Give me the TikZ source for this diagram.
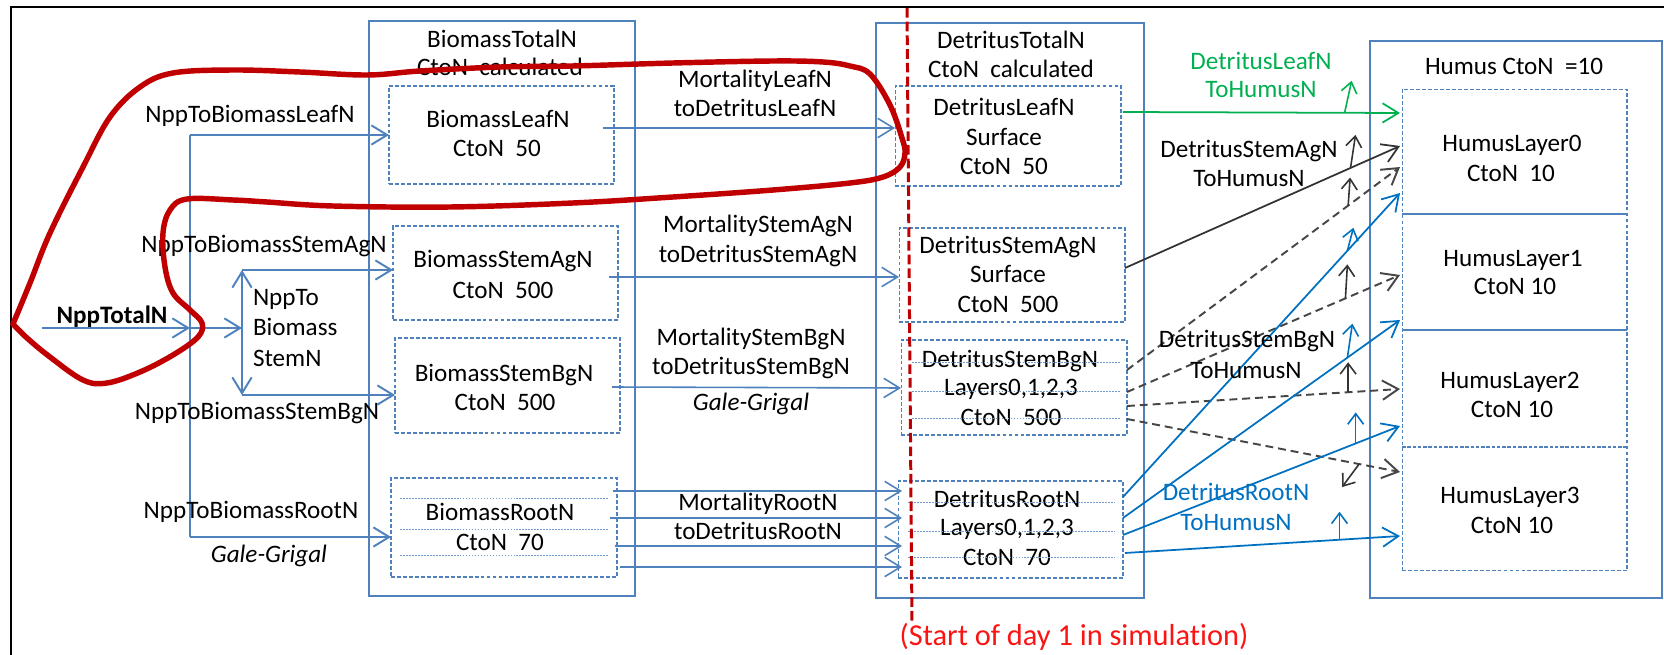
\documentclass[tikz,border=0pt]{standalone}
\usepackage{fontspec}
\setmainfont{Carlito}[Ligatures=NoCommon]
\usetikzlibrary{arrows.meta,calc}
\definecolor{boxblue}{RGB}{79,129,189}
\definecolor{flowblue}{RGB}{0,112,192}
\definecolor{flowgreen}{RGB}{0,176,80}
\definecolor{loopred}{RGB}{192,0,0}
\definecolor{daytext}{RGB}{250,20,20}
\definecolor{flowgray}{RGB}{70,70,70}
\begin{document}
\begin{tikzpicture}[x=0.02cm,y=-0.02cm,
  every node/.style={font=\fontsize{14.3}{17}\selectfont, inner sep=0pt, outer sep=0pt},
  txt/.style={anchor=base},
  outerbox/.style={draw=boxblue, line width=1pt, rectangle},
  dbox/.style={draw=boxblue, line width=0.6pt, dash pattern=on 2.2pt off 1.2pt, rectangle},
  rule/.style={draw=boxblue!80, line width=0.4pt, dash pattern=on 1pt off 0.7pt},
  head/.style={-{Straight Barb[length=9pt,width=11pt]}},
  smallhead/.style={-{Straight Barb[length=6pt,width=9pt]}},
  nppline/.style={draw=boxblue, line width=1.1pt},
  npparrow/.style={nppline, head},
  mort/.style={draw=boxblue, line width=0.9pt, head},
  greenflow/.style={draw=flowgreen, line width=1pt, head},
  blackflow/.style={draw=black!80, line width=1pt, head},
  grayflow/.style={draw=flowgray, line width=1.1pt, dash pattern=on 4.5pt off 2.8pt, head},
  blueflow/.style={draw=flowblue, line width=1pt, head},
  upgreen/.style={draw=flowgreen, line width=0.9pt, smallhead},
  upblack/.style={draw=black!80, line width=0.9pt, smallhead},
  upblue/.style={draw=flowblue, line width=0.9pt, smallhead}]

\useasboundingbox (0,0) rectangle (1664,655);

% page frame
\draw[line width=1.1pt] (1664,7) -- (11,7) -- (11,655);

% ---------- biomass pools ----------
\node[outerbox, minimum width=5.32cm, minimum height=11.5cm] (btot) at (502,308.5) {};
\node[txt] (btotA) at (502,48) {BiomassTotalN};
\node[txt] (btotB) at (500,76) {CtoN\ \ calculated};

\node[dbox, minimum width=4.5cm, minimum height=1.96cm] (bleaf) at (501.5,135) {};
\node[txt] (bleafA) at (498,128) {BiomassLeafN};
\node[txt] (bleafB) at (497,157) {CtoN\ \ 50};

\node[dbox, minimum width=4.5cm, minimum height=1.88cm] (bsag) at (505.5,273) {};
\node[txt] (bsagA) at (503,268) {BiomassStemAgN};
\node[txt] (bsagB) at (503,298) {CtoN\ \ 500};

\node[dbox, minimum width=4.5cm, minimum height=1.9cm] (bsbg) at (507.5,385.5) {};
\node[txt] (bsbgA) at (504,381) {BiomassStemBgN};
\node[txt] (bsbgB) at (505,410) {CtoN\ \ 500};

\node[dbox, minimum width=4.52cm, minimum height=1.98cm] (broot) at (504,527.5) {};
\draw[rule] (400,498) -- (608,498);
\draw[rule] (400,529) -- (608,529);
\draw[rule] (400,555) -- (608,555);
\node[txt] (brootA) at (500,520) {BiomassRootN};
\node[txt] (brootB) at (500,550) {CtoN\ \ 70};

% ---------- detritus pools ----------
\node[outerbox, minimum width=5.36cm, minimum height=11.5cm] (dtot) at (1010,310.5) {};
\node[txt] (dtotA) at (1011,49) {DetritusTotalN};
\node[txt] (dtotB) at (1011,78) {CtoN\ \ calculated};

\node[dbox, minimum width=4.52cm, minimum height=2cm] (dleaf) at (1008,136) {};
\node[txt] (dleafA) at (1004,116) {DetritusLeafN};
\node[txt] (dleafB) at (1004,146) {Surface};
\node[txt] (dleafC) at (1004,175) {CtoN\ \ 50};

\node[dbox, minimum width=4.52cm, minimum height=1.88cm] (dsag) at (1012,275) {};
\node[txt] (dsagA) at (1008,254) {DetritusStemAgN};
\node[txt] (dsagB) at (1008,283) {Surface};
\node[txt] (dsagC) at (1008,313) {CtoN\ \ 500};

\node[dbox, minimum width=4.52cm, minimum height=1.9cm] (dsbg) at (1014,387.5) {};
\node[txt] (dsbgA) at (1010,367) {DetritusStemBgN};
\node[txt] (dsbgB) at (1011,396) {Layers0,1,2,3};
\node[txt] (dsbgC) at (1011,425) {CtoN\ \ 500};
\draw[rule] (912,362) -- (1120,362);
\draw[rule] (912,391) -- (1120,391);
\draw[rule] (912,418) -- (1120,418);

\node[dbox, minimum width=4.5cm, minimum height=1.94cm] (droot) at (1010.5,529.5) {};
\node[txt] (drootA) at (1007,507) {DetritusRootN};
\node[txt] (drootB) at (1007,535) {Layers0,1,2,3};
\node[txt] (drootC) at (1007,565) {CtoN\ \ 70};
\draw[rule] (908,502) -- (1115,502);
\draw[rule] (908,531) -- (1115,531);
\draw[rule] (908,557) -- (1115,557);

% ---------- humus pool ----------
\node[outerbox, minimum width=5.84cm, minimum height=11.14cm] (htot) at (1516,319.5) {};
\node[txt] (htotA) at (1514,75) {Humus CtoN\ \ =10};
\node[dbox, minimum width=4.5cm, minimum height=9.64cm] (hin) at (1514.5,330) {};
\node[minimum width=4.5cm, minimum height=2.5cm] (hl0) at (1514.5,151.5) {};
\node[minimum width=4.5cm, minimum height=2.32cm] (hl1) at (1514.5,272) {};
\node[minimum width=4.5cm, minimum height=2.34cm] (hl2) at (1514.5,388.5) {};
\node[minimum width=4.5cm, minimum height=2.48cm] (hl3) at (1514.5,509) {};
\draw[boxblue, line width=0.8pt] (hl0.south west) -- (hl0.south east);
\draw[boxblue, line width=0.8pt] (hl1.south west) -- (hl1.south east);
\draw[boxblue, line width=1.1pt, dash pattern=on 2pt off 1pt] (hl2.south west) -- (hl2.south east);
\node[txt] (hl0A) at (1512,152) {HumusLayer0};
\node[txt] (hl0B) at (1511,182) {CtoN\ \ 10};
\node[txt] (hl1A) at (1513,267) {HumusLayer1};
\node[txt] (hl1B) at (1515,295) {CtoN 10};
\node[txt] (hl2A) at (1510,388) {HumusLayer2};
\node[txt] (hl2B) at (1512,418) {CtoN 10};
\node[txt] (hl3A) at (1510,503) {HumusLayer3};
\node[txt] (hl3B) at (1512,533) {CtoN 10};

% ---------- NPP allocation ----------
\node[txt, font=\fontsize{14.3}{17}\selectfont\bfseries] (npp) at (112,323) {NppTotalN};
\coordinate (nppin) at (42,328);
\coordinate (trunk) at (190,328);
\coordinate (ttop) at (190,135);
\coordinate (tbot) at (190,537);
\coordinate (split) at (242,328);
\coordinate (sup) at (242,270);
\coordinate (sdn) at (242,395);

\draw[npparrow] (nppin) -- (trunk);
\draw[nppline] (ttop) -- (tbot);
\draw[npparrow] (ttop) -- (bleaf.west);
\draw[npparrow] (tbot) -- ($(broot.west)+(0,9.5)$);
\draw[npparrow] (trunk) -- (split);
\draw[npparrow] (split) -- (sup);
\draw[npparrow] (split) -- (sdn);
\draw[npparrow] (sup) -- ($(bsag.west)+(0,-3)$);
\draw[npparrow] (sdn) -- ($(bsbg.west)+(0,9.5)$);

\node[txt] (lblLeaf) at (250,123) {NppToBiomassLeafN};
\node[txt] (lblAg) at (264,253) {NppToBiomassStemAgN};
\node[txt, anchor=base west] (lblSt1) at (253,306) {NppTo};
\node[txt, anchor=base west] (lblSt2) at (253,336) {Biomass};
\node[txt, anchor=base west] (lblSt3) at (253,366) {StemN};
\node[txt] (lblBg) at (257,419) {NppToBiomassStemBgN};
\node[txt] (lblRoot) at (251,518) {NppToBiomassRootN};
\node[txt, font=\fontsize{14.3}{17}\selectfont\itshape] (lblGG1) at (269,562) {Gale-Grigal};

% ---------- mortality to detritus ----------
\draw[mort] ($(bleaf.east)+(-11,-7)$) -- ($(dleaf.west)+(0,-8)$);
\draw[mort] ($(bsag.east)+(-9,4)$) -- ($(dsag.west)+(0,2)$);
\draw[mort] ($(bsbg.east)+(-8,1.5)$) -- ($(dsbg.west)+(0,0.5)$);
\draw[mort] ($(broot.east)+(-4,-36.5)$) -- ($(droot.west)+(4,-38.5)$);
\draw[mort] ($(broot.east)+(-7,-9.5)$) -- ($(droot.west)+(4,-11.5)$);
\draw[mort] ($(broot.east)+(-2,18.5)$) -- ($(droot.west)+(4,16.5)$);
\draw[mort] ($(broot.east)+(3,39.5)$) -- ($(droot.west)+(4,37.5)$);

\node[txt] (mlA) at (755,88) {MortalityLeafN};
\node[txt] (mlB) at (755,117) {toDetritusLeafN};
\node[txt] (maA) at (758,233) {MortalityStemAgN};
\node[txt] (maB) at (758,263) {toDetritusStemAgN};
\node[txt] (mbA) at (751,345) {MortalityStemBgN};
\node[txt] (mbB) at (751,375) {toDetritusStemBgN};
\node[txt, font=\fontsize{14.3}{17}\selectfont\itshape] (lblGG2) at (751,410) {Gale-Grigal};
\node[txt] (mrA) at (758,510) {MortalityRootN};
\node[txt] (mrB) at (758,539) {toDetritusRootN};

% ---------- detritus to humus ----------
\draw[greenflow] ($(dleaf.east)+(2,-24)$) -- coordinate[pos=0.8] (gup) ($(hl0.west)+(-2,-38.5)$);
\draw[upgreen] (gup) -- ++(7,-32);

\draw[blackflow] ($(dsag.east)+(0,-7)$) -- coordinate[pos=0.82] (kup) ($(hl0.west)+(-2,-5.5)$);
\draw[upblack] (kup) -- ++(5,-33);

\draw[grayflow] ($(dsbg.east)+(0,-17.5)$) -- coordinate[pos=0.81] (d0up) ($(hl0.west)+(-2,15.5)$);
\draw[upblack] (d0up) -- ++(2,-28);
\draw[grayflow] ($(dsbg.east)+(0,4.5)$) -- coordinate[pos=0.80] (d1up) ($(hl1.west)+(-2,3)$);
\draw[upblack] (d1up) -- ++(2,-34);
\draw[grayflow] ($(dsbg.east)+(0,18.5)$) -- coordinate[pos=0.81] (d2up) ($(hl2.west)+(-2,0.5)$);
\draw[upblack] (d2up) -- ++(0,-30);
\draw[grayflow] ($(dsbg.east)+(0,31.5)$) -- coordinate[pos=0.85] (d3up) ($(hl3.west)+(-2,-37)$);
\draw[upblack] (d3up) -- ++(-17,23);

\draw[blueflow] ($(droot.east)+(0,-32.5)$) -- coordinate[pos=0.81] (r0up) ($(hl0.west)+(-2,41.5)$);
\draw[upblue] (r0up) -- ++(6,-23);
\draw[blueflow] ($(droot.east)+(0,-11.5)$) -- coordinate[pos=0.81] (r1up) ($(hl1.west)+(-2,48)$);
\draw[upblue] (r1up) -- ++(5,-34);
\draw[blueflow] ($(droot.east)+(0,5.5)$) -- coordinate[pos=0.84] (r2up) ($(hl2.west)+(-2,37.5)$);
\draw[upblue] (r2up) -- ++(0,-31);
\draw[blueflow] ($(droot.east)+(2,23.5)$) -- coordinate[pos=0.78] (r3up) ($(hl3.west)+(-2,27)$);
\draw[upblue] (r3up) -- ++(0,-28);

\node[txt, text=flowgreen] (gA) at (1261,70) {DetritusLeafN};
\node[txt, text=flowgreen] (gB) at (1261,98) {ToHumusN};
\node[txt] (kA) at (1249,158) {DetritusStemAgN};
\node[txt] (kB) at (1249,187) {ToHumusN};
\node[txt] (sA) at (1247,348) {DetritusStemBgN};
\node[txt] (sB) at (1246,378) {ToHumusN};
\node[txt, text=flowblue] (rA) at (1236,500) {DetritusRootN};
\node[txt, text=flowblue] (rB) at (1236,530) {ToHumusN};

% ---------- start of simulation marker ----------
\coordinate (dayTop) at (907,8);
\coordinate (dayBot) at (912,622);
\draw[loopred, line width=1.7pt, dash pattern=on 5.5pt off 2.3pt] (dayTop) -- (dayBot);
\node[txt, text=daytext, font=\fontsize{17.3}{20}\selectfont] (dayLbl) at (1074,645) {(Start of day 1 in simulation)};

% ---------- hand-drawn loop ----------
\draw[loopred, line width=3.1pt, line join=round, line cap=round]
  plot[smooth, tension=0.6] coordinates {
  (13,324) (30,283) (50,233) (83,167) (110,117) (140,87) (173,73) (233,70)
  (300,72) (367,75) (420,71) (500,67) (573,66) (673,63) (773,61) (823,62)
  (850,66) (870,74) (890,105) (902,138) (905,153) (900,167) (883,177) (850,183)
  (773,190) (673,197) (573,203) (450,207) (333,206) (267,202) (233,200)
  (187,199) (170,210) (163,233) (165,267) (173,293) (190,310) (202,323)
  (198,337) (173,355) (140,372) (107,383) (83,380) (50,357) (27,338) (13,324)};
\end{tikzpicture}
\end{document}
